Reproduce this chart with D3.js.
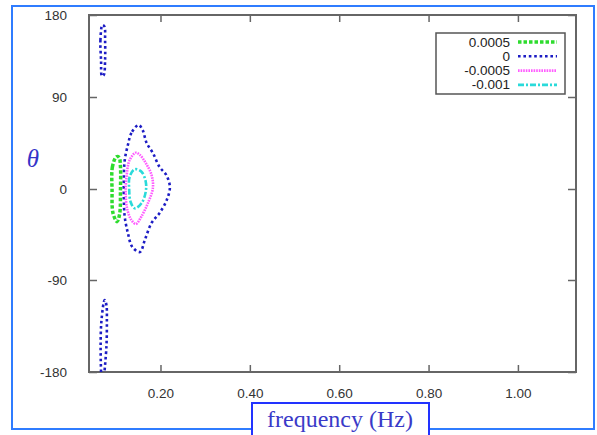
<!DOCTYPE html>
<html>
<head>
<meta charset="utf-8">
<script src="https://cdn.jsdelivr.net/npm/d3@7"></script>
<style>
  body { margin: 0; background: #fff; }
  svg { display: block; }
  .tick text { font-family: "Liberation Sans", Arial, sans-serif; font-size: 13.5px; fill: #333; }
</style>
</head>
<body>
<svg id="chart" width="597" height="435"></svg>
<script>
// contour levels and their outlines, [frequency (Hz), theta (deg)]
var levels = ["0.0005", "0", "-0.0005", "-0.001"];
var colors = ["#2edc2e", "#1c1cc4", "#ff5cff", "#2adada"];

var green = [[0.1015, 31.6], [0.0925, 21.8], [0.0916, -1], [0.0938, -24], [0.1028, -32.3],
             [0.1088, -24], [0.1104, -1], [0.1104, 21.8], [0.1073, 31]];
var blueMain = [[0.151, 62.6], [0.135, 54.8], [0.127, 43], [0.120, 28.4], [0.118, 11.7],
                [0.118, -10.9], [0.120, -27.7], [0.127, -43.5], [0.137, -57.4], [0.154, -62.3],
                [0.165, -50.4], [0.180, -33.6], [0.198, -23.7], [0.214, -10.9], [0.221, 2],
                [0.213, 13.7], [0.198, 21.5], [0.183, 35.2], [0.169, 45], [0.160, 57.7]];
var blueTop = [[0.070, 169], [0.0656, 152.6], [0.067, 130.6], [0.069, 113], [0.073, 114],
               [0.076, 130.6], [0.076, 152.6], [0.0746, 167.2]];
var blueBottom = [[0.067, -180], [0.066, -155.2], [0.068, -129.1], [0.075, -109.6],
                  [0.079, -114.5], [0.080, -129.1], [0.079, -155.2], [0.0746, -180]];
var magenta = [[0.1447, 35.5], [0.131, 28.4], [0.124, 12.0], [0.122, -4.0], [0.126, -20.8],
               [0.135, -30.7], [0.145, -34.6], [0.157, -27.4], [0.172, -13.8], [0.183, 1],
               [0.180, 13.7], [0.167, 25.4], [0.154, 33.3]];
var cyan = [[0.1424, 19.3], [0.131, 12], [0.130, -1], [0.133, -12.6], [0.1424, -19.1],
            [0.1575, -14.1], [0.167, -2.7], [0.167, 7.1], [0.1575, 16.9]];

var xTicks = [0.2, 0.4, 0.6, 0.8, 1.0];
var yTicks = [-180, -90, 0, 90, 180];

var dashes = ["3.5,2", "2.6,2.8", "1.6,1", "6,2,2,2"];
var widths = [3.5, 2.6, 2.6, 2.6];

var contours = [
  {level: 1, pts: blueMain, closed: true},
  {level: 1, pts: blueTop, closed: true},
  {level: 1, pts: blueBottom, closed: false},
  {level: 0, pts: green, closed: true},
  {level: 2, pts: magenta, closed: true},
  {level: 3, pts: cyan, closed: true}
];

var svg = d3.select("#chart");
var pLeft = 89, pRight = 576, pTop = 15, pBottom = 372;

var x = d3.scaleLinear().domain([0.04, 1.13]).range([pLeft, pRight]);
// the picture's y axis is slightly stretched at the top
var y = d3.scaleLinear().domain([-180, -90, 0, 90, 180]).range([pBottom, 280, 189, 97, pTop]);

// outer slide frame
svg.append("rect")
    .attr("x", 12).attr("y", 6)
    .attr("width", 582).attr("height", 423)
    .attr("fill", "none")
    .attr("stroke", "#2f7cff")
    .attr("stroke-width", 2);

// axes, ticks pointing inward
var axisColor = "#666";
var gx = svg.append("g")
    .attr("transform", "translate(0," + pBottom + ")")
    .call(d3.axisBottom(x).tickValues(xTicks).tickFormat(d3.format(".2f")).tickSizeInner(-7).tickSizeOuter(0).tickPadding(16));
var gx2 = svg.append("g")
    .attr("transform", "translate(0," + pTop + ")")
    .call(d3.axisTop(x).tickValues(xTicks).tickFormat("").tickSizeInner(-7).tickSizeOuter(0));
var gy = svg.append("g")
    .attr("transform", "translate(" + pLeft + ",0)")
    .call(d3.axisLeft(y).tickValues(yTicks).tickFormat(function(d) { return String(d); })
      .tickSizeInner(-8).tickSizeOuter(0).tickPadding(22));
var gy2 = svg.append("g")
    .attr("transform", "translate(" + pRight + ",0)")
    .call(d3.axisRight(y).tickValues(yTicks).tickFormat("").tickSizeInner(-8).tickSizeOuter(0));

[gx, gx2, gy, gy2].forEach(function(g) {
  g.select(".domain").remove();
  g.selectAll(".tick line").attr("stroke", axisColor).attr("stroke-width", 1.5);
});

svg.append("rect")
    .attr("x", pLeft).attr("y", pTop)
    .attr("width", pRight - pLeft).attr("height", pBottom - pTop)
    .attr("fill", "none")
    .attr("stroke", axisColor)
    .attr("stroke-width", 2);

// contours
var lineClosed = d3.line()
    .x(function(d) { return x(d[0]); })
    .y(function(d) { return y(d[1]); })
    .curve(d3.curveCatmullRomClosed);
var lineOpen = d3.line()
    .x(function(d) { return x(d[0]); })
    .y(function(d) { return y(d[1]); })
    .curve(d3.curveCatmullRom);

svg.append("g").selectAll("path")
    .data(contours)
  .enter().append("path")
    .attr("d", function(c) { return c.closed ? lineClosed(c.pts) : lineOpen(c.pts); })
    .attr("fill", "none")
    .attr("stroke", function(c) { return colors[c.level]; })
    .attr("stroke-width", function(c) { return widths[c.level]; })
    .attr("stroke-dasharray", function(c) { return dashes[c.level]; });

// legend
var legend = svg.append("g");
legend.append("rect")
    .attr("x", 436).attr("y", 33)
    .attr("width", 129).attr("height", 61)
    .attr("fill", "#fff")
    .attr("stroke", "#555")
    .attr("stroke-width", 1.5);

var rows = legend.selectAll("g.row")
    .data(levels)
  .enter().append("g")
    .attr("class", "row")
    .attr("transform", function(d, i) { return "translate(0," + (42 + i * 14.3) + ")"; });

rows.append("text")
    .attr("x", 510).attr("y", 4.5)
    .attr("text-anchor", "end")
    .style("font-family", "Liberation Sans, Arial, sans-serif")
    .style("font-size", "13.5px")
    .attr("fill", "#222")
    .text(function(d) { return d; });

rows.append("line")
    .attr("x1", 518).attr("x2", 557)
    .attr("stroke", function(d, i) { return colors[i]; })
    .attr("stroke-width", function(d, i) { return widths[i]; })
    .attr("stroke-dasharray", function(d, i) { return dashes[i]; });

// axis titles
svg.append("text")
    .attr("x", 33).attr("y", 167)
    .attr("text-anchor", "middle")
    .style("font-family", "Liberation Serif, Times New Roman, serif")
    .style("font-style", "italic")
    .style("font-size", "25px")
    .attr("fill", "#3434c8")
    .text("θ");

svg.append("rect")
    .attr("x", 252).attr("y", 403)
    .attr("width", 177).attr("height", 40)
    .attr("fill", "#fff")
    .attr("stroke", "#2233ff")
    .attr("stroke-width", 2);

svg.append("text")
    .attr("x", 340).attr("y", 427)
    .attr("text-anchor", "middle")
    .style("font-family", "Liberation Serif, Times New Roman, serif")
    .style("font-size", "24px")
    .attr("fill", "#3a3ac8")
    .text("frequency (Hz)");
</script>
</body>
</html>
